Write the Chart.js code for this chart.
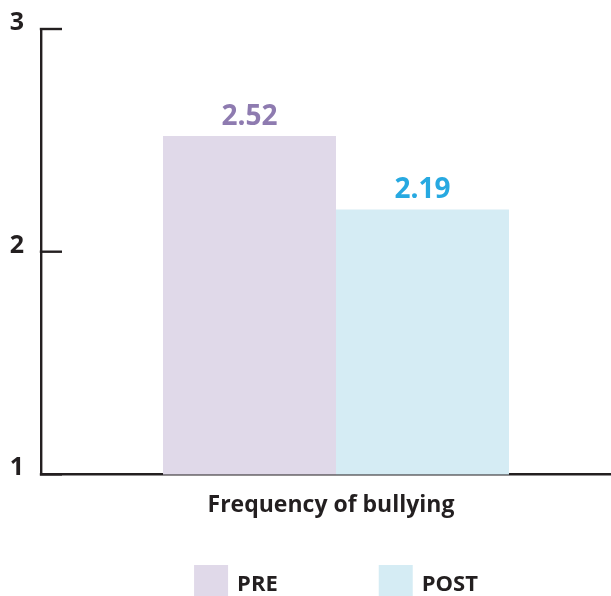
<!DOCTYPE html>
<html>
<head>
<meta charset="utf-8">
<script src="https://cdn.jsdelivr.net/npm/chart.js@4.4.1/dist/chart.umd.min.js"></script>
<style>
  html, body { margin: 0; padding: 0; background: #fff; overflow: hidden; }
  #wrap { width: 611px; height: 596px; overflow: hidden; position: relative; }
  #wrap canvas { position: absolute; left: 0; top: 0; }
</style>
</head>
<body>
<div id="wrap"><canvas id="chart" width="631" height="596"></canvas></div>
<script>
// datos del gráfico
const categories = ["Frequency of bullying"];
const seriesNames = ["PRE", "POST"];
const preValues = [2.52];
const postValues = [2.19];
const yTicks = [1, 2, 3];

const INK = "#231F20";
const FONT = "'Open Sans', 'Noto Sans', sans-serif";

// colores de cada serie: barra y etiqueta de valor
const barColors = ["#E0D9E9", "#D5ECF4"];
const valueColors = ["#8E7BB0", "#27A9E1"];

/**
 * Marcas del eje Y hacia dentro del área y sus etiquetas
 */
const yAxisPlugin = {
  id: "yAxisMarks",
  afterDraw(chart) {
    const ctx = chart.ctx;
    const y = chart.scales.y;
    const left = chart.chartArea.left;
    ctx.save();
    ctx.strokeStyle = INK;
    ctx.lineWidth = 2.4;
    ctx.fillStyle = INK;
    ctx.font = "bold 25px " + FONT;
    ctx.textAlign = "right";
    ctx.textBaseline = "alphabetic";
    y.ticks.forEach((t) => {
      const py = y.getPixelForValue(t.value);
      ctx.beginPath();
      ctx.moveTo(left - 1.2, py);
      ctx.lineTo(left + 21, py);
      ctx.stroke();
      ctx.fillText(String(t.value), 24, py + 1);
    });
    ctx.restore();
  },
};

/**
 * Valores encima de cada barra
 */
const valueLabelPlugin = {
  id: "valueLabels",
  afterDatasetsDraw(chart) {
    const ctx = chart.ctx;
    ctx.save();
    ctx.font = "bold 28px " + FONT;
    ctx.textAlign = "center";
    ctx.textBaseline = "alphabetic";
    chart.data.datasets.forEach((ds, i) => {
      const meta = chart.getDatasetMeta(i);
      meta.data.forEach((bar, j) => {
        ctx.fillStyle = valueColors[i];
        ctx.fillText(ds.data[j].toFixed(2), bar.x, bar.y - 11);
      });
    });
    ctx.restore();
  },
};

/**
 * Leyenda inferior con cuadros grandes
 */
const legendPlugin = {
  id: "bottomLegend",
  afterDraw(chart) {
    const ctx = chart.ctx;
    const area = chart.chartArea;
    const boxW = 34, boxH = 31, gap = 9, itemGap = 101;
    const top = chart.height - 31;
    ctx.save();
    ctx.font = "bold 22px " + FONT;
    const items = chart.data.datasets.map((ds) => ({
      label: ds.label,
      color: ds.backgroundColor,
      w: boxW + gap + ctx.measureText(ds.label).width,
    }));
    const total = items.reduce((s, it) => s + it.w, 0) + itemGap * (items.length - 1);
    let x = (area.left + area.right) / 2 - total / 2;
    items.forEach((it) => {
      ctx.fillStyle = it.color;
      ctx.fillRect(x, top, boxW, boxH);
      ctx.fillStyle = INK;
      ctx.textAlign = "left";
      ctx.textBaseline = "middle";
      ctx.fillText(it.label, x + boxW + gap, top + 20);
      x += it.w + itemGap;
    });
    ctx.restore();
  },
};

const ctx = document.getElementById("chart").getContext("2d");
new Chart(ctx, {
  type: "bar",
  data: {
    labels: categories,
    datasets: [
      { label: seriesNames[0], data: preValues, backgroundColor: barColors[0] },
      { label: seriesNames[1], data: postValues, backgroundColor: barColors[1] },
    ],
  },
  options: {
    responsive: false,
    animation: false,
    devicePixelRatio: 1,
    categoryPercentage: 0.5864,
    barPercentage: 1,
    layout: {
      padding: { left: 41, top: 29, right: 0, bottom: 60 },
    },
    plugins: {
      legend: { display: false },
      tooltip: { enabled: false },
    },
    scales: {
      x: {
        grid: { display: false, drawTicks: false },
        border: { display: true, color: INK, width: 2.4 },
        ticks: {
          color: INK,
          padding: 17,
          labelOffset: -5,
          font: { family: FONT, size: 23, weight: "bold" },
        },
      },
      y: {
        min: 1,
        max: 3,
        afterBuildTicks: (scale) => {
          scale.ticks = yTicks.map((v) => ({ value: v }));
        },
        grid: { display: false, drawTicks: false },
        border: { display: true, color: INK, width: 2.4 },
        ticks: { display: false },
      },
    },
  },
  plugins: [valueLabelPlugin, yAxisPlugin, legendPlugin],
});
</script>
</body>
</html>
